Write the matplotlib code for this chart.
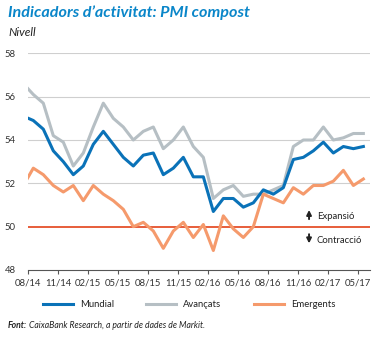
import numpy as np
import matplotlib.pyplot as plt

# Mesos (07/14 - 05/17), valors del PMI compost
mesos = ['07/14', '08/14', '09/14', '10/14', '11/14', '12/14', '01/15', '02/15', '03/15',
         '04/15', '05/15', '06/15', '07/15', '08/15', '09/15', '10/15', '11/15', '12/15',
         '01/16', '02/16', '03/16', '04/16', '05/16', '06/16', '07/16', '08/16', '09/16',
         '10/16', '11/16', '12/16', '01/17', '02/17', '03/17', '04/17', '05/17']

mundial = [55.1, 54.9, 54.5, 53.5, 53.0, 52.4, 52.8, 53.8, 54.4, 53.8, 53.2, 52.8, 53.3,
           53.4, 52.4, 52.7, 53.2, 52.3, 52.3, 50.7, 51.3, 51.3, 50.9, 51.1, 51.7, 51.5,
           51.8, 53.1, 53.2, 53.5, 53.9, 53.4, 53.7, 53.6, 53.7]

avancats = [56.6, 56.1, 55.7, 54.2, 53.9, 52.8, 53.4, 54.6, 55.7, 55.0, 54.6, 54.0, 54.4,
            54.6, 53.6, 54.0, 54.6, 53.7, 53.2, 51.3, 51.7, 51.9, 51.4, 51.5, 51.5, 51.7,
            51.9, 53.7, 54.0, 54.0, 54.6, 54.0, 54.1, 54.3, 54.3]

emergents = [51.9, 52.7, 52.4, 51.9, 51.6, 51.9, 51.2, 51.9, 51.5, 51.2, 50.8, 50.0, 50.2,
             49.8, 49.0, 49.8, 50.2, 49.5, 50.1, 48.9, 50.5, 49.9, 49.5, 50.0, 51.5, 51.3,
             51.1, 51.8, 51.5, 51.9, 51.9, 52.1, 52.6, 51.9, 52.2]

etiquetes_x = ['08/14', '11/14', '02/15', '05/15', '08/15', '11/15',
               '02/16', '05/16', '08/16', '11/16', '02/17', '05/17']

BLAU = '#0a72b8'
GRIS = '#b6bfc4'
TARONJA = '#f59a6c'
VERMELL = '#e5502b'
TITOL = '#0a86c9'

plt.rcParams['font.family'] = ['Lato', 'DejaVu Sans']

fig = plt.figure(figsize=(3.84, 3.38), dpi=100)
ax = fig.add_axes([0.0737, 0.2012, 0.89, 0.6410])

# cada mes centrat entre dues marques de l'eix
x = np.arange(len(mesos)) - 0.5

for y in [52, 54, 56, 58]:
    ax.axhline(y, color='#cfcfcf', lw=0.8, zorder=1)
ax.axhline(50, color=VERMELL, lw=1.3, zorder=2)

ax.plot(x, avancats, color=GRIS, lw=2.2, zorder=3, label='Avançats')
ax.plot(x, mundial, color=BLAU, lw=2.2, zorder=4, label='Mundial')
ax.plot(x, emergents, color=TARONJA, lw=2.2, zorder=5, label='Emergents')

ax.set_xlim(0, 34.17)
ax.set_ylim(48, 58)
ax.set_xticks(np.arange(0, 34, 3))
ax.set_xticklabels(etiquetes_x)
ax.set_yticks([48, 50, 52, 54, 56, 58])

for s in ['top', 'right', 'left']:
    ax.spines[s].set_visible(False)
ax.spines['bottom'].set_color('#555555')
ax.spines['bottom'].set_linewidth(0.8)
ax.tick_params(axis='x', length=3, width=0.8, color='#555555', labelsize=6.8,
               labelcolor='#333333', pad=3)
ax.tick_params(axis='y', length=0, labelsize=6.8, labelcolor='#333333', pad=9)

# fletxes d'expansió / contracció
ax.annotate('', xy=(28.07, 50.9), xytext=(28.07, 50.22),
            arrowprops=dict(arrowstyle='-|>', lw=1.4, color='#222222', mutation_scale=7))
ax.annotate('', xy=(28.07, 49.1), xytext=(28.07, 49.78),
            arrowprops=dict(arrowstyle='-|>', lw=1.4, color='#222222', mutation_scale=7))
ax.text(28.85, 50.45, 'Expansió', fontsize=6.8, color='#222222', va='center')
ax.text(28.85, 49.34, 'Contracció', fontsize=6.8, color='#222222', va='center')

fig.text(0.021, 0.963, 'Indicadors d\u2019activitat: PMI compost', fontsize=11.6,
         fontweight='bold', fontstyle='italic', color=TITOL, va='center')
fig.text(0.021, 0.905, 'Nivell', fontsize=8.5, fontstyle='italic', color='#222222', va='center')

h, l = ax.get_legend_handles_labels()
ordre = [1, 0, 2]
fig.legend([h[i] for i in ordre], [l[i] for i in ordre], loc='center',
           bbox_to_anchor=(0.492, 0.098), ncol=3, frameon=False, fontsize=6.8,
           handlelength=3.2, handletextpad=0.75, columnspacing=3.4,
           labelcolor='#222222')

fig.text(0.021, 0.038, 'Font:', fontsize=6.2, fontweight='bold', fontstyle='italic',
         color='#222222', va='center')
fig.text(0.075, 0.038, 'CaixaBank Research, a partir de dades de Markit.', fontsize=6.2,
         fontstyle='italic', color='#222222', va='center')

fig.savefig('out.png', dpi=100)
